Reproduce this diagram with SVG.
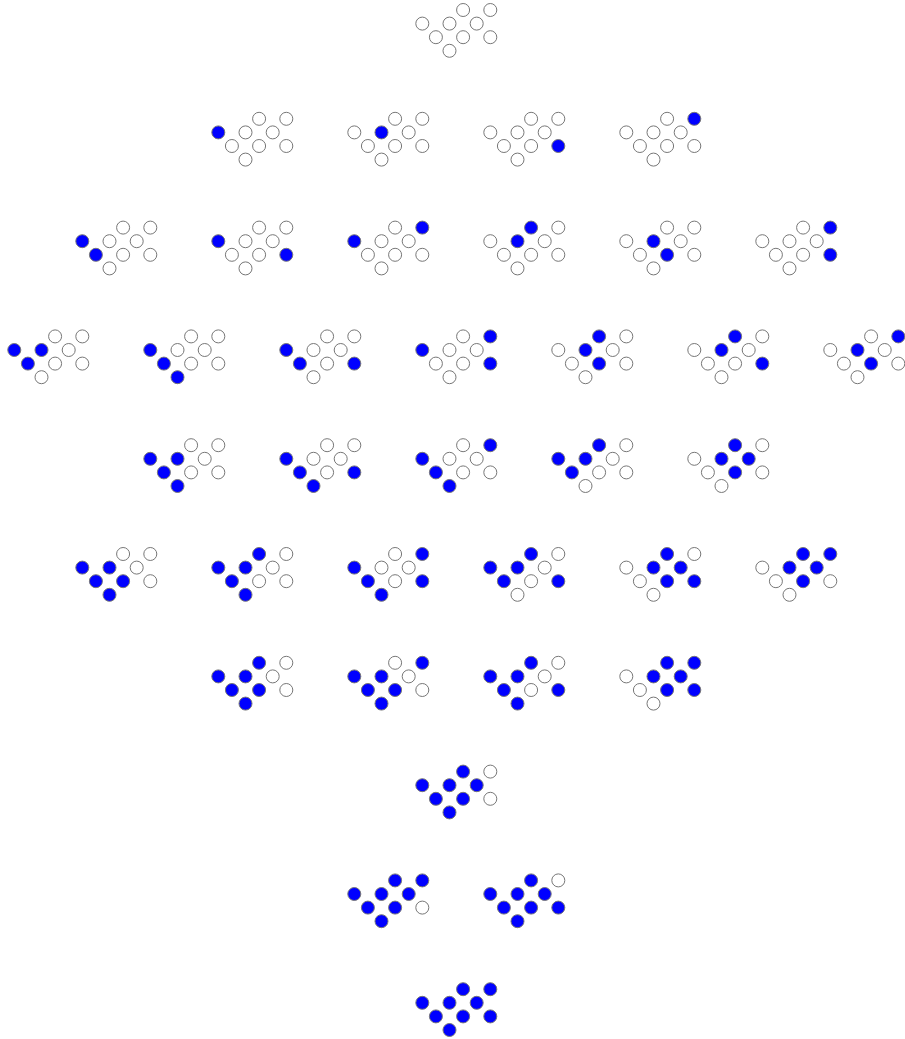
<svg xmlns="http://www.w3.org/2000/svg" width="905" height="1039" viewBox="0 0 905 1039">
<style>
circle{r:6.5px;stroke:#777;stroke-width:1}
.o{fill:#fff}
.b{fill:#0000ff}
</style>
<rect width="905" height="1039" fill="#fff"/>
<g id="connectors"></g>
<!-- cell offsets: a(0,0) b(13.6,13.6) c(27.2,27.2) d(27.2,0) e(40.8,13.6) f(40.8,-13.6) g(54.4,0) h(68,13.6) i(68,-13.6) -->
<g id="r1n1" transform="translate(422.3,23.6)"><circle class="o" cx="0" cy="0" r="6.5"/><circle class="o" cx="13.6" cy="13.6" r="6.5"/><circle class="o" cx="27.2" cy="27.2" r="6.5"/><circle class="o" cx="27.2" cy="0" r="6.5"/><circle class="o" cx="40.8" cy="13.6" r="6.5"/><circle class="o" cx="40.8" cy="-13.6" r="6.5"/><circle class="o" cx="54.4" cy="0" r="6.5"/><circle class="o" cx="68" cy="13.6" r="6.5"/><circle class="o" cx="68" cy="-13.6" r="6.5"/></g>

<g id="r2n1" transform="translate(218.3,132.4)"><circle class="b" cx="0" cy="0" r="6.5"/><circle class="o" cx="13.6" cy="13.6" r="6.5"/><circle class="o" cx="27.2" cy="27.2" r="6.5"/><circle class="o" cx="27.2" cy="0" r="6.5"/><circle class="o" cx="40.8" cy="13.6" r="6.5"/><circle class="o" cx="40.8" cy="-13.6" r="6.5"/><circle class="o" cx="54.4" cy="0" r="6.5"/><circle class="o" cx="68" cy="13.6" r="6.5"/><circle class="o" cx="68" cy="-13.6" r="6.5"/></g>
<g id="r2n2" transform="translate(354.3,132.4)"><circle class="o" cx="0" cy="0" r="6.5"/><circle class="o" cx="13.6" cy="13.6" r="6.5"/><circle class="o" cx="27.2" cy="27.2" r="6.5"/><circle class="b" cx="27.2" cy="0" r="6.5"/><circle class="o" cx="40.8" cy="13.6" r="6.5"/><circle class="o" cx="40.8" cy="-13.6" r="6.5"/><circle class="o" cx="54.4" cy="0" r="6.5"/><circle class="o" cx="68" cy="13.6" r="6.5"/><circle class="o" cx="68" cy="-13.6" r="6.5"/></g>
<g id="r2n3" transform="translate(490.3,132.4)"><circle class="o" cx="0" cy="0" r="6.5"/><circle class="o" cx="13.6" cy="13.6" r="6.5"/><circle class="o" cx="27.2" cy="27.2" r="6.5"/><circle class="o" cx="27.2" cy="0" r="6.5"/><circle class="o" cx="40.8" cy="13.6" r="6.5"/><circle class="o" cx="40.8" cy="-13.6" r="6.5"/><circle class="o" cx="54.4" cy="0" r="6.5"/><circle class="b" cx="68" cy="13.6" r="6.5"/><circle class="o" cx="68" cy="-13.6" r="6.5"/></g>
<g id="r2n4" transform="translate(626.3,132.4)"><circle class="o" cx="0" cy="0" r="6.5"/><circle class="o" cx="13.6" cy="13.6" r="6.5"/><circle class="o" cx="27.2" cy="27.2" r="6.5"/><circle class="o" cx="27.2" cy="0" r="6.5"/><circle class="o" cx="40.8" cy="13.6" r="6.5"/><circle class="o" cx="40.8" cy="-13.6" r="6.5"/><circle class="o" cx="54.4" cy="0" r="6.5"/><circle class="o" cx="68" cy="13.6" r="6.5"/><circle class="b" cx="68" cy="-13.6" r="6.5"/></g>

<g id="r3n1" transform="translate(82.3,241.2)"><circle class="b" cx="0" cy="0" r="6.5"/><circle class="b" cx="13.6" cy="13.6" r="6.5"/><circle class="o" cx="27.2" cy="27.2" r="6.5"/><circle class="o" cx="27.2" cy="0" r="6.5"/><circle class="o" cx="40.8" cy="13.6" r="6.5"/><circle class="o" cx="40.8" cy="-13.6" r="6.5"/><circle class="o" cx="54.4" cy="0" r="6.5"/><circle class="o" cx="68" cy="13.6" r="6.5"/><circle class="o" cx="68" cy="-13.6" r="6.5"/></g>
<g id="r3n2" transform="translate(218.3,241.2)"><circle class="b" cx="0" cy="0" r="6.5"/><circle class="o" cx="13.6" cy="13.6" r="6.5"/><circle class="o" cx="27.2" cy="27.2" r="6.5"/><circle class="o" cx="27.2" cy="0" r="6.5"/><circle class="o" cx="40.8" cy="13.6" r="6.5"/><circle class="o" cx="40.8" cy="-13.6" r="6.5"/><circle class="o" cx="54.4" cy="0" r="6.5"/><circle class="b" cx="68" cy="13.6" r="6.5"/><circle class="o" cx="68" cy="-13.6" r="6.5"/></g>
<g id="r3n3" transform="translate(354.3,241.2)"><circle class="b" cx="0" cy="0" r="6.5"/><circle class="o" cx="13.6" cy="13.6" r="6.5"/><circle class="o" cx="27.2" cy="27.2" r="6.5"/><circle class="o" cx="27.2" cy="0" r="6.5"/><circle class="o" cx="40.8" cy="13.6" r="6.5"/><circle class="o" cx="40.8" cy="-13.6" r="6.5"/><circle class="o" cx="54.4" cy="0" r="6.5"/><circle class="o" cx="68" cy="13.6" r="6.5"/><circle class="b" cx="68" cy="-13.6" r="6.5"/></g>
<g id="r3n4" transform="translate(490.3,241.2)"><circle class="o" cx="0" cy="0" r="6.5"/><circle class="o" cx="13.6" cy="13.6" r="6.5"/><circle class="o" cx="27.2" cy="27.2" r="6.5"/><circle class="b" cx="27.2" cy="0" r="6.5"/><circle class="o" cx="40.8" cy="13.6" r="6.5"/><circle class="b" cx="40.8" cy="-13.6" r="6.5"/><circle class="o" cx="54.4" cy="0" r="6.5"/><circle class="o" cx="68" cy="13.6" r="6.5"/><circle class="o" cx="68" cy="-13.6" r="6.5"/></g>
<g id="r3n5" transform="translate(626.3,241.2)"><circle class="o" cx="0" cy="0" r="6.5"/><circle class="o" cx="13.6" cy="13.6" r="6.5"/><circle class="o" cx="27.2" cy="27.2" r="6.5"/><circle class="b" cx="27.2" cy="0" r="6.5"/><circle class="b" cx="40.8" cy="13.6" r="6.5"/><circle class="o" cx="40.8" cy="-13.6" r="6.5"/><circle class="o" cx="54.4" cy="0" r="6.5"/><circle class="o" cx="68" cy="13.6" r="6.5"/><circle class="o" cx="68" cy="-13.6" r="6.5"/></g>
<g id="r3n6" transform="translate(762.3,241.2)"><circle class="o" cx="0" cy="0" r="6.5"/><circle class="o" cx="13.6" cy="13.6" r="6.5"/><circle class="o" cx="27.2" cy="27.2" r="6.5"/><circle class="o" cx="27.2" cy="0" r="6.5"/><circle class="o" cx="40.8" cy="13.6" r="6.5"/><circle class="o" cx="40.8" cy="-13.6" r="6.5"/><circle class="o" cx="54.4" cy="0" r="6.5"/><circle class="b" cx="68" cy="13.6" r="6.5"/><circle class="b" cx="68" cy="-13.6" r="6.5"/></g>

<g id="r4n1" transform="translate(14.3,350)"><circle class="b" cx="0" cy="0" r="6.5"/><circle class="b" cx="13.6" cy="13.6" r="6.5"/><circle class="o" cx="27.2" cy="27.2" r="6.5"/><circle class="b" cx="27.2" cy="0" r="6.5"/><circle class="o" cx="40.8" cy="13.6" r="6.5"/><circle class="o" cx="40.8" cy="-13.6" r="6.5"/><circle class="o" cx="54.4" cy="0" r="6.5"/><circle class="o" cx="68" cy="13.6" r="6.5"/><circle class="o" cx="68" cy="-13.6" r="6.5"/></g>
<g id="r4n2" transform="translate(150.3,350)"><circle class="b" cx="0" cy="0" r="6.5"/><circle class="b" cx="13.6" cy="13.6" r="6.5"/><circle class="b" cx="27.2" cy="27.2" r="6.5"/><circle class="o" cx="27.2" cy="0" r="6.5"/><circle class="o" cx="40.8" cy="13.6" r="6.5"/><circle class="o" cx="40.8" cy="-13.6" r="6.5"/><circle class="o" cx="54.4" cy="0" r="6.5"/><circle class="o" cx="68" cy="13.6" r="6.5"/><circle class="o" cx="68" cy="-13.6" r="6.5"/></g>
<g id="r4n3" transform="translate(286.3,350)"><circle class="b" cx="0" cy="0" r="6.5"/><circle class="b" cx="13.6" cy="13.6" r="6.5"/><circle class="o" cx="27.2" cy="27.2" r="6.5"/><circle class="o" cx="27.2" cy="0" r="6.5"/><circle class="o" cx="40.8" cy="13.6" r="6.5"/><circle class="o" cx="40.8" cy="-13.6" r="6.5"/><circle class="o" cx="54.4" cy="0" r="6.5"/><circle class="b" cx="68" cy="13.6" r="6.5"/><circle class="o" cx="68" cy="-13.6" r="6.5"/></g>
<g id="r4n4" transform="translate(422.3,350)"><circle class="b" cx="0" cy="0" r="6.5"/><circle class="o" cx="13.6" cy="13.6" r="6.5"/><circle class="o" cx="27.2" cy="27.2" r="6.5"/><circle class="o" cx="27.2" cy="0" r="6.5"/><circle class="o" cx="40.8" cy="13.6" r="6.5"/><circle class="o" cx="40.8" cy="-13.6" r="6.5"/><circle class="o" cx="54.4" cy="0" r="6.5"/><circle class="b" cx="68" cy="13.6" r="6.5"/><circle class="b" cx="68" cy="-13.6" r="6.5"/></g>
<g id="r4n5" transform="translate(558.3,350)"><circle class="o" cx="0" cy="0" r="6.5"/><circle class="o" cx="13.6" cy="13.6" r="6.5"/><circle class="o" cx="27.2" cy="27.2" r="6.5"/><circle class="b" cx="27.2" cy="0" r="6.5"/><circle class="b" cx="40.8" cy="13.6" r="6.5"/><circle class="b" cx="40.8" cy="-13.6" r="6.5"/><circle class="o" cx="54.4" cy="0" r="6.5"/><circle class="o" cx="68" cy="13.6" r="6.5"/><circle class="o" cx="68" cy="-13.6" r="6.5"/></g>
<g id="r4n6" transform="translate(694.3,350)"><circle class="o" cx="0" cy="0" r="6.5"/><circle class="o" cx="13.6" cy="13.6" r="6.5"/><circle class="o" cx="27.2" cy="27.2" r="6.5"/><circle class="b" cx="27.2" cy="0" r="6.5"/><circle class="o" cx="40.8" cy="13.6" r="6.5"/><circle class="b" cx="40.8" cy="-13.6" r="6.5"/><circle class="o" cx="54.4" cy="0" r="6.5"/><circle class="b" cx="68" cy="13.6" r="6.5"/><circle class="o" cx="68" cy="-13.6" r="6.5"/></g>
<g id="r4n7" transform="translate(830.3,350)"><circle class="o" cx="0" cy="0" r="6.5"/><circle class="o" cx="13.6" cy="13.6" r="6.5"/><circle class="o" cx="27.2" cy="27.2" r="6.5"/><circle class="b" cx="27.2" cy="0" r="6.5"/><circle class="b" cx="40.8" cy="13.6" r="6.5"/><circle class="o" cx="40.8" cy="-13.6" r="6.5"/><circle class="o" cx="54.4" cy="0" r="6.5"/><circle class="o" cx="68" cy="13.6" r="6.5"/><circle class="b" cx="68" cy="-13.6" r="6.5"/></g>

<g id="r5n1" transform="translate(150.3,458.8)"><circle class="b" cx="0" cy="0" r="6.5"/><circle class="b" cx="13.6" cy="13.6" r="6.5"/><circle class="b" cx="27.2" cy="27.2" r="6.5"/><circle class="b" cx="27.2" cy="0" r="6.5"/><circle class="o" cx="40.8" cy="13.6" r="6.5"/><circle class="o" cx="40.8" cy="-13.6" r="6.5"/><circle class="o" cx="54.4" cy="0" r="6.5"/><circle class="o" cx="68" cy="13.6" r="6.5"/><circle class="o" cx="68" cy="-13.6" r="6.5"/></g>
<g id="r5n2" transform="translate(286.3,458.8)"><circle class="b" cx="0" cy="0" r="6.5"/><circle class="b" cx="13.6" cy="13.6" r="6.5"/><circle class="b" cx="27.2" cy="27.2" r="6.5"/><circle class="o" cx="27.2" cy="0" r="6.5"/><circle class="o" cx="40.8" cy="13.6" r="6.5"/><circle class="o" cx="40.8" cy="-13.6" r="6.5"/><circle class="o" cx="54.4" cy="0" r="6.5"/><circle class="b" cx="68" cy="13.6" r="6.5"/><circle class="o" cx="68" cy="-13.6" r="6.5"/></g>
<g id="r5n3" transform="translate(422.3,458.8)"><circle class="b" cx="0" cy="0" r="6.5"/><circle class="b" cx="13.6" cy="13.6" r="6.5"/><circle class="b" cx="27.2" cy="27.2" r="6.5"/><circle class="o" cx="27.2" cy="0" r="6.5"/><circle class="o" cx="40.8" cy="13.6" r="6.5"/><circle class="o" cx="40.8" cy="-13.6" r="6.5"/><circle class="o" cx="54.4" cy="0" r="6.5"/><circle class="o" cx="68" cy="13.6" r="6.5"/><circle class="b" cx="68" cy="-13.6" r="6.5"/></g>
<g id="r5n4" transform="translate(558.3,458.8)"><circle class="b" cx="0" cy="0" r="6.5"/><circle class="b" cx="13.6" cy="13.6" r="6.5"/><circle class="o" cx="27.2" cy="27.2" r="6.5"/><circle class="b" cx="27.2" cy="0" r="6.5"/><circle class="o" cx="40.8" cy="13.6" r="6.5"/><circle class="b" cx="40.8" cy="-13.6" r="6.5"/><circle class="o" cx="54.4" cy="0" r="6.5"/><circle class="o" cx="68" cy="13.6" r="6.5"/><circle class="o" cx="68" cy="-13.6" r="6.5"/></g>
<g id="r5n5" transform="translate(694.3,458.8)"><circle class="o" cx="0" cy="0" r="6.5"/><circle class="o" cx="13.6" cy="13.6" r="6.5"/><circle class="o" cx="27.2" cy="27.2" r="6.5"/><circle class="b" cx="27.2" cy="0" r="6.5"/><circle class="b" cx="40.8" cy="13.6" r="6.5"/><circle class="b" cx="40.8" cy="-13.6" r="6.5"/><circle class="b" cx="54.4" cy="0" r="6.5"/><circle class="o" cx="68" cy="13.6" r="6.5"/><circle class="o" cx="68" cy="-13.6" r="6.5"/></g>

<g id="r6n1" transform="translate(82.3,567.6)"><circle class="b" cx="0" cy="0" r="6.5"/><circle class="b" cx="13.6" cy="13.6" r="6.5"/><circle class="b" cx="27.2" cy="27.2" r="6.5"/><circle class="b" cx="27.2" cy="0" r="6.5"/><circle class="b" cx="40.8" cy="13.6" r="6.5"/><circle class="o" cx="40.8" cy="-13.6" r="6.5"/><circle class="o" cx="54.4" cy="0" r="6.5"/><circle class="o" cx="68" cy="13.6" r="6.5"/><circle class="o" cx="68" cy="-13.6" r="6.5"/></g>
<g id="r6n2" transform="translate(218.3,567.6)"><circle class="b" cx="0" cy="0" r="6.5"/><circle class="b" cx="13.6" cy="13.6" r="6.5"/><circle class="b" cx="27.2" cy="27.2" r="6.5"/><circle class="b" cx="27.2" cy="0" r="6.5"/><circle class="o" cx="40.8" cy="13.6" r="6.5"/><circle class="b" cx="40.8" cy="-13.6" r="6.5"/><circle class="o" cx="54.4" cy="0" r="6.5"/><circle class="o" cx="68" cy="13.6" r="6.5"/><circle class="o" cx="68" cy="-13.6" r="6.5"/></g>
<g id="r6n3" transform="translate(354.3,567.6)"><circle class="b" cx="0" cy="0" r="6.5"/><circle class="b" cx="13.6" cy="13.6" r="6.5"/><circle class="b" cx="27.2" cy="27.2" r="6.5"/><circle class="o" cx="27.2" cy="0" r="6.5"/><circle class="o" cx="40.8" cy="13.6" r="6.5"/><circle class="o" cx="40.8" cy="-13.6" r="6.5"/><circle class="o" cx="54.4" cy="0" r="6.5"/><circle class="b" cx="68" cy="13.6" r="6.5"/><circle class="b" cx="68" cy="-13.6" r="6.5"/></g>
<g id="r6n4" transform="translate(490.3,567.6)"><circle class="b" cx="0" cy="0" r="6.5"/><circle class="b" cx="13.6" cy="13.6" r="6.5"/><circle class="o" cx="27.2" cy="27.2" r="6.5"/><circle class="b" cx="27.2" cy="0" r="6.5"/><circle class="o" cx="40.8" cy="13.6" r="6.5"/><circle class="b" cx="40.8" cy="-13.6" r="6.5"/><circle class="o" cx="54.4" cy="0" r="6.5"/><circle class="b" cx="68" cy="13.6" r="6.5"/><circle class="o" cx="68" cy="-13.6" r="6.5"/></g>
<g id="r6n5" transform="translate(626.3,567.6)"><circle class="o" cx="0" cy="0" r="6.5"/><circle class="o" cx="13.6" cy="13.6" r="6.5"/><circle class="o" cx="27.2" cy="27.2" r="6.5"/><circle class="b" cx="27.2" cy="0" r="6.5"/><circle class="b" cx="40.8" cy="13.6" r="6.5"/><circle class="b" cx="40.8" cy="-13.6" r="6.5"/><circle class="b" cx="54.4" cy="0" r="6.5"/><circle class="b" cx="68" cy="13.6" r="6.5"/><circle class="o" cx="68" cy="-13.6" r="6.5"/></g>
<g id="r6n6" transform="translate(762.3,567.6)"><circle class="o" cx="0" cy="0" r="6.5"/><circle class="o" cx="13.6" cy="13.6" r="6.5"/><circle class="o" cx="27.2" cy="27.2" r="6.5"/><circle class="b" cx="27.2" cy="0" r="6.5"/><circle class="b" cx="40.8" cy="13.6" r="6.5"/><circle class="b" cx="40.8" cy="-13.6" r="6.5"/><circle class="b" cx="54.4" cy="0" r="6.5"/><circle class="o" cx="68" cy="13.6" r="6.5"/><circle class="b" cx="68" cy="-13.6" r="6.5"/></g>

<g id="r7n1" transform="translate(218.3,676.4)"><circle class="b" cx="0" cy="0" r="6.5"/><circle class="b" cx="13.6" cy="13.6" r="6.5"/><circle class="b" cx="27.2" cy="27.2" r="6.5"/><circle class="b" cx="27.2" cy="0" r="6.5"/><circle class="b" cx="40.8" cy="13.6" r="6.5"/><circle class="b" cx="40.8" cy="-13.6" r="6.5"/><circle class="o" cx="54.4" cy="0" r="6.5"/><circle class="o" cx="68" cy="13.6" r="6.5"/><circle class="o" cx="68" cy="-13.6" r="6.5"/></g>
<g id="r7n2" transform="translate(354.3,676.4)"><circle class="b" cx="0" cy="0" r="6.5"/><circle class="b" cx="13.6" cy="13.6" r="6.5"/><circle class="b" cx="27.2" cy="27.2" r="6.5"/><circle class="b" cx="27.2" cy="0" r="6.5"/><circle class="b" cx="40.8" cy="13.6" r="6.5"/><circle class="o" cx="40.8" cy="-13.6" r="6.5"/><circle class="o" cx="54.4" cy="0" r="6.5"/><circle class="o" cx="68" cy="13.6" r="6.5"/><circle class="b" cx="68" cy="-13.6" r="6.5"/></g>
<g id="r7n3" transform="translate(490.3,676.4)"><circle class="b" cx="0" cy="0" r="6.5"/><circle class="b" cx="13.6" cy="13.6" r="6.5"/><circle class="b" cx="27.2" cy="27.2" r="6.5"/><circle class="b" cx="27.2" cy="0" r="6.5"/><circle class="o" cx="40.8" cy="13.6" r="6.5"/><circle class="b" cx="40.8" cy="-13.6" r="6.5"/><circle class="o" cx="54.4" cy="0" r="6.5"/><circle class="b" cx="68" cy="13.6" r="6.5"/><circle class="o" cx="68" cy="-13.6" r="6.5"/></g>
<g id="r7n4" transform="translate(626.3,676.4)"><circle class="o" cx="0" cy="0" r="6.5"/><circle class="o" cx="13.6" cy="13.6" r="6.5"/><circle class="o" cx="27.2" cy="27.2" r="6.5"/><circle class="b" cx="27.2" cy="0" r="6.5"/><circle class="b" cx="40.8" cy="13.6" r="6.5"/><circle class="b" cx="40.8" cy="-13.6" r="6.5"/><circle class="b" cx="54.4" cy="0" r="6.5"/><circle class="b" cx="68" cy="13.6" r="6.5"/><circle class="b" cx="68" cy="-13.6" r="6.5"/></g>

<g id="r8n1" transform="translate(422.3,785.2)"><circle class="b" cx="0" cy="0" r="6.5"/><circle class="b" cx="13.6" cy="13.6" r="6.5"/><circle class="b" cx="27.2" cy="27.2" r="6.5"/><circle class="b" cx="27.2" cy="0" r="6.5"/><circle class="b" cx="40.8" cy="13.6" r="6.5"/><circle class="b" cx="40.8" cy="-13.6" r="6.5"/><circle class="b" cx="54.4" cy="0" r="6.5"/><circle class="o" cx="68" cy="13.6" r="6.5"/><circle class="o" cx="68" cy="-13.6" r="6.5"/></g>

<g id="r9n1" transform="translate(354.3,894)"><circle class="b" cx="0" cy="0" r="6.5"/><circle class="b" cx="13.6" cy="13.6" r="6.5"/><circle class="b" cx="27.2" cy="27.2" r="6.5"/><circle class="b" cx="27.2" cy="0" r="6.5"/><circle class="b" cx="40.8" cy="13.6" r="6.5"/><circle class="b" cx="40.8" cy="-13.6" r="6.5"/><circle class="b" cx="54.4" cy="0" r="6.5"/><circle class="o" cx="68" cy="13.6" r="6.5"/><circle class="b" cx="68" cy="-13.6" r="6.5"/></g>
<g id="r9n2" transform="translate(490.3,894)"><circle class="b" cx="0" cy="0" r="6.5"/><circle class="b" cx="13.6" cy="13.6" r="6.5"/><circle class="b" cx="27.2" cy="27.2" r="6.5"/><circle class="b" cx="27.2" cy="0" r="6.5"/><circle class="b" cx="40.8" cy="13.6" r="6.5"/><circle class="b" cx="40.8" cy="-13.6" r="6.5"/><circle class="b" cx="54.4" cy="0" r="6.5"/><circle class="b" cx="68" cy="13.6" r="6.5"/><circle class="o" cx="68" cy="-13.6" r="6.5"/></g>

<g id="r10n1" transform="translate(422.3,1002.8)"><circle class="b" cx="0" cy="0" r="6.5"/><circle class="b" cx="13.6" cy="13.6" r="6.5"/><circle class="b" cx="27.2" cy="27.2" r="6.5"/><circle class="b" cx="27.2" cy="0" r="6.5"/><circle class="b" cx="40.8" cy="13.6" r="6.5"/><circle class="b" cx="40.8" cy="-13.6" r="6.5"/><circle class="b" cx="54.4" cy="0" r="6.5"/><circle class="b" cx="68" cy="13.6" r="6.5"/><circle class="b" cx="68" cy="-13.6" r="6.5"/></g>
</svg>
